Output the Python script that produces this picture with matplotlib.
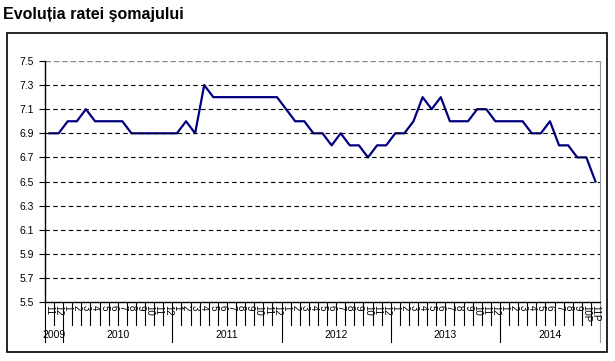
import matplotlib.pyplot as plt
from matplotlib.patches import Rectangle
from matplotlib.transforms import blended_transform_factory

# luni (etichete) si ani
months = ['11', '12'] + [str(m) for m in range(1, 13)] * 4 + [str(m) for m in range(1, 10)] + ['10P', '11P']
years = ['2009', '2010', '2011', '2012', '2013', '2014']
months_per_year = [2, 12, 12, 12, 12, 11]

# rata somajului (%)
rate = [6.9, 6.9,
        7.0, 7.0, 7.1, 7.0, 7.0, 7.0, 7.0, 6.9, 6.9, 6.9, 6.9, 6.9,
        6.9, 7.0, 6.9, 7.3, 7.2, 7.2, 7.2, 7.2, 7.2, 7.2, 7.2, 7.2,
        7.1, 7.0, 7.0, 6.9, 6.9, 6.8, 6.9, 6.8, 6.8, 6.7, 6.8, 6.8,
        6.9, 6.9, 7.0, 7.2, 7.1, 7.2, 7.0, 7.0, 7.0, 7.1, 7.1, 7.0,
        7.0, 7.0, 7.0, 6.9, 6.9, 7.0, 6.8, 6.8, 6.7, 6.7, 6.5]

yticks = [5.5, 5.7, 5.9, 6.1, 6.3, 6.5, 6.7, 6.9, 7.1, 7.3, 7.5]

W, H = 615, 361
plt.rcParams['font.family'] = ['Liberation Sans', 'DejaVu Sans']
fig = plt.figure(figsize=(W / 100, H / 100), dpi=100)
fig.patch.set_facecolor('white')

# chenarul exterior
fig.add_artist(Rectangle((7 / W, 1 - 352 / H), 600 / W, 319 / H, transform=fig.transFigure,
                         fill=False, ec='black', lw=1.2))
fig.text(3 / W, 1 - 19 / H, 'Evoluția ratei şomajului', fontsize=11.5, fontweight='bold')

ax = fig.add_axes([45 / W, 1 - 302 / H, 555 / W, 241 / H])
n = len(rate)
x = [i + 0.5 for i in range(n)]
ax.plot(x, rate, color='#000080', lw=1.6)
ax.set_xlim(0, n)
ax.set_ylim(5.5, 7.5)
ax.set_yticks(yticks)
ax.set_yticklabels(['%.1f' % v for v in yticks], fontsize=7.5)
ax.tick_params(axis='y', length=4, width=0.8, pad=4)
for v in yticks[1:-1]:
    ax.axhline(v, color='black', lw=0.8, ls=(0, (4, 3)))
ax.axhline(7.5, color='#888888', lw=1, ls=(0, (4, 2)))

ax.set_xticks([])
ax.spines['top'].set_visible(False)
ax.spines['right'].set_color('#999999')
ax.spines['left'].set_linewidth(1)
ax.spines['bottom'].set_linewidth(1)

tr = blended_transform_factory(ax.transData, ax.transAxes)
# etichete luni si separatoare
for i, m in enumerate(months):
    ax.text(i + 0.5, -0.012, m, transform=tr, rotation=-90, ha='center', va='top', fontsize=7)
boundaries = [0]
for c in months_per_year:
    boundaries.append(boundaries[-1] + c)
for k in range(n + 1):
    low = -0.166 if k in boundaries else -0.095
    col = '#999999' if k == n else 'black'
    ax.plot([k, k], [0, low], transform=tr, color=col, lw=0.8, clip_on=False)
for j, y in enumerate(years):
    mid = (boundaries[j] + boundaries[j + 1]) / 2
    ax.text(mid, -0.135, y, transform=tr, ha='center', va='center', fontsize=7.5)

fig.savefig('out.png', dpi=100)
